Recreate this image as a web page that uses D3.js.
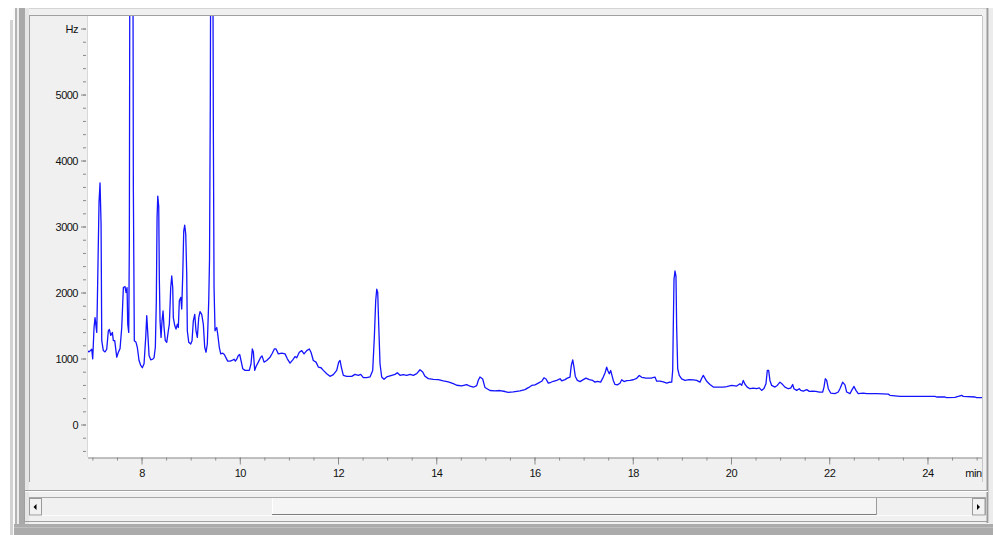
<!DOCTYPE html>
<html><head><meta charset="utf-8">
<script src="https://cdn.jsdelivr.net/npm/d3@7/dist/d3.min.js"></script>
<style>body{margin:0;background:#fff;overflow:hidden}svg{display:block}</style>
</head><body>
<svg id="chart" width="993" height="535"></svg>
<script>
// ---- data (retention time in min, signal in Hz); 9000 = off-scale peaks ----
const chromatogram = [
[6.897,1120],[6.931,1100],[6.986,1140],[7.006,995],[7.033,1470],[7.053,1620],[7.088,1395],[7.100,1850],
[7.135,3380],[7.155,3660],[7.176,3035],[7.190,1270],[7.222,1120],[7.257,1100],[7.291,1140],[7.324,1420],
[7.345,1440],[7.373,1350],[7.406,1395],[7.426,1270],[7.454,1270],[7.495,1020],[7.528,1095],[7.562,1150],
[7.597,1470],[7.630,2075],[7.664,2090],[7.684,2000],[7.705,2075],[7.719,1520],[7.739,1395],[7.752,2790],
[7.766,9000],[7.821,9000],[7.833,3640],[7.853,1270],[7.888,1245],[7.914,1170],[7.949,970],[7.984,895],
[8.016,860],[8.051,920],[8.085,1320],[8.106,1650],[8.132,1320],[8.153,1045],[8.187,980],[8.228,990],
[8.254,1010],[8.281,1170],[8.301,1875],[8.316,3130],[8.330,3460],[8.350,3306],[8.362,2225],[8.377,1570],
[8.397,1320],[8.417,1570],[8.438,1720],[8.458,1470],[8.484,1270],[8.513,1245],[8.545,1420],[8.566,1520],
[8.594,2075],[8.615,2250],[8.635,2075],[8.647,1620],[8.676,1500],[8.702,1445],[8.729,1520],[8.749,1470],
[8.769,1875],[8.798,1925],[8.818,1750],[8.839,2275],[8.859,2930],[8.879,3020],[8.900,2880],[8.920,2275],
[8.932,1420],[8.961,1245],[9.001,1220],[9.028,1270],[9.054,1570],[9.083,1670],[9.109,1420],[9.136,1320],
[9.164,1620],[9.191,1710],[9.225,1670],[9.258,1520],[9.286,1170],[9.313,1095],[9.339,1220],[9.368,1875],
[9.384,2500],[9.400,4900],[9.415,9000],[9.445,9000],[9.462,4460],[9.476,2075],[9.496,1420],[9.531,1470],
[9.551,1370],[9.583,1170],[9.612,1070],[9.653,1080],[9.685,1060],[9.720,1010],[9.754,960],[9.802,960],
[9.842,970],[9.883,990],[9.910,960],[9.938,990],[9.970,1045],[9.999,1060],[10.025,970],[10.060,845],
[10.107,820],[10.194,820],[10.229,920],[10.255,1145],[10.276,1100],[10.304,820],[10.331,880],[10.377,945],
[10.426,1020],[10.453,1040],[10.494,945],[10.548,970],[10.616,1020],[10.662,1080],[10.703,1145],[10.738,1145],
[10.785,1070],[10.854,1080],[10.921,1070],[10.968,995],[11.023,930],[11.078,980],[11.125,1030],[11.159,1010],
[11.212,1095],[11.261,1120],[11.308,1070],[11.363,1120],[11.416,1145],[11.450,1095],[11.497,970],[11.552,945],
[11.599,870],[11.654,860],[11.701,820],[11.770,770],[11.837,730],[11.904,755],[11.973,820],[12.014,945],
[12.041,970],[12.067,870],[12.108,745],[12.177,730],[12.279,730],[12.346,760],[12.413,745],[12.462,760],
[12.515,710],[12.584,710],[12.651,720],[12.706,820],[12.739,1320],[12.767,1875],[12.788,2050],[12.808,2000],
[12.828,1520],[12.855,920],[12.889,720],[12.936,685],[12.991,720],[13.093,745],[13.160,760],[13.207,785],
[13.262,745],[13.329,755],[13.398,745],[13.466,760],[13.533,745],[13.602,770],[13.669,830],[13.724,795],
[13.771,730],[13.838,695],[13.940,685],[14.042,680],[14.143,660],[14.245,645],[14.347,620],[14.416,595],
[14.518,585],[14.620,605],[14.687,580],[14.754,565],[14.823,590],[14.856,670],[14.890,720],[14.945,690],
[14.992,560],[15.094,515],[15.195,510],[15.297,515],[15.399,500],[15.466,487],[15.568,495],[15.705,510],
[15.806,528],[15.874,558],[15.943,592],[16.010,600],[16.077,627],[16.146,655],[16.193,708],[16.234,690],
[16.281,627],[16.336,640],[16.383,655],[16.452,668],[16.520,693],[16.554,660],[16.621,680],[16.668,703],
[16.722,718],[16.749,895],[16.778,980],[16.804,868],[16.831,728],[16.872,668],[16.927,650],[16.993,680],
[17.048,703],[17.116,680],[17.185,668],[17.232,642],[17.278,655],[17.347,642],[17.400,718],[17.441,793],
[17.469,868],[17.496,810],[17.522,768],[17.551,818],[17.578,740],[17.604,668],[17.638,607],[17.685,600],
[17.740,625],[17.775,678],[17.822,650],[17.877,665],[17.944,670],[18.011,678],[18.080,700],[18.133,743],
[18.182,715],[18.249,705],[18.316,703],[18.386,705],[18.453,718],[18.487,657],[18.554,657],[18.622,645],
[18.691,627],[18.738,640],[18.793,642],[18.813,818],[18.825,1470],[18.840,2200],[18.860,2326],[18.880,2250],
[18.894,1470],[18.915,845],[18.947,745],[18.996,690],[19.063,668],[19.151,680],[19.233,675],[19.302,668],
[19.369,642],[19.404,700],[19.436,745],[19.471,700],[19.505,655],[19.572,607],[19.640,567],[19.742,567],
[19.843,567],[19.912,575],[20.014,592],[20.116,583],[20.183,618],[20.218,595],[20.250,668],[20.285,610],
[20.331,567],[20.386,542],[20.453,552],[20.522,542],[20.576,555],[20.624,517],[20.671,545],[20.712,618],
[20.739,818],[20.767,818],[20.793,668],[20.828,592],[20.895,567],[20.942,592],[20.997,642],[21.052,605],
[21.099,567],[21.166,542],[21.215,552],[21.256,607],[21.282,542],[21.337,517],[21.390,542],[21.419,517],
[21.472,505],[21.541,528],[21.594,502],[21.663,505],[21.730,502],[21.797,492],[21.867,492],[21.893,567],
[21.920,693],[21.948,668],[21.981,542],[22.029,477],[22.117,467],[22.184,492],[22.218,542],[22.273,642],
[22.320,600],[22.355,492],[22.422,467],[22.457,517],[22.504,577],[22.544,517],[22.591,467],[22.693,475],
[22.762,467],[22.965,467],[23.202,460],[23.236,442],[23.440,427],[23.711,427],[23.984,427],[24.153,427],
[24.187,417],[24.356,417],[24.390,407],[24.559,412],[24.696,442],[24.729,427],[24.968,417],[25.002,407],
[25.109,407]
];
const xDomain = [6.91, 25.11];
const yDomain = [-500, 6190];
const xMinorTicks = d3.range(7, 25.01, 0.5);
const xMajorTicks = [8, 10, 12, 14, 16, 18, 20, 22, 24];
const xUnitLabel = "min";
const xUnitAt = 25;
const yMinorTicks = d3.range(-400, 6001, 200);
const yMajorTicks = [0, 1000, 2000, 3000, 4000, 5000, 6000];
const yUnitLabel = "Hz";
const yUnitAt = 6000;

// ---- layout ----
const svg = d3.select("#chart");
const P = {l: 88, r: 982, t: 16, b: 457.5};
const x = d3.scaleLinear().domain(xDomain).range([P.l, P.r]);
const y = d3.scaleLinear().domain(yDomain).range([P.b, P.t]);

function rect(xx, yy, w, h, fill) {
  svg.append("rect").attr("x", xx).attr("y", yy).attr("width", w).attr("height", h).attr("fill", fill);
}
function hline(x1, x2, yy, c) {
  svg.append("line").attr("x1", x1).attr("x2", x2).attr("y1", yy).attr("y2", yy).attr("stroke", c).attr("stroke-width", 1);
}
function vline(xx, y1, y2, c, w) {
  svg.append("line").attr("x1", xx).attr("x2", xx).attr("y1", y1).attr("y2", y2).attr("stroke", c).attr("stroke-width", w || 1);
}

// window frame
rect(0, 0, 993, 535, "#ffffff");
rect(10, 20, 3, 515, "#d2d2d2");
rect(13, 8, 2, 527, "#fafafa");
rect(15, 8, 2, 527, "#b4b4b4");
rect(17, 8, 2, 527, "#ececec");
rect(19, 8, 6, 527, "#a9a9a9");
rect(25, 8, 4, 527, "#e6e6e6");
rect(29, 8, 959, 517, "#f0f0f0");
hline(29, 988, 8.5, "#d4d4d4");
hline(29, 982, 15.5, "#a0a0a0");
rect(P.l, P.t, P.r - P.l, P.b - P.t, "#ffffff");
vline(982.5, 16, 482, "#c8c8c8");
vline(987.5, 8, 523, "#9a9a9a", 2);
rect(989, 8, 4, 527, "#ececec");
vline(29.5, 16, 482, "#a0a0a0");
vline(87.5, 16, 457, "#d8d8d8");

// scrollbar area
hline(24, 988, 490.5, "#a0a0a0");
hline(24, 988, 491.5, "#ffffff");
vline(24.5, 490, 522, "#a0a0a0");
hline(29, 986, 497.5, "#a8a8a8");
rect(29.5, 498, 956, 17, "#f0f0f0");
vline(29.5, 497, 516, "#a8a8a8");
vline(985.5, 497, 516, "#a8a8a8");
// thumb
rect(272, 498, 605, 16, "#f5f5f5");
vline(272.5, 498, 514, "#ffffff");
hline(272, 877, 514.5, "#7c7c7c");
vline(876.5, 498, 515, "#9c9c9c");
hline(29, 986, 515.5, "#fcfcfc");
// buttons
rect(30, 498.5, 11, 16, "#f2f2f2");
svg.append("rect").attr("x", 29.5).attr("y", 498.5).attr("width", 12).attr("height", 16.5)
  .attr("fill", "none").attr("stroke", "#9a9a9a");
rect(973, 498.5, 12, 16, "#f2f2f2");
svg.append("rect").attr("x", 972.5).attr("y", 498.5).attr("width", 12.5).attr("height", 16.5)
  .attr("fill", "none").attr("stroke", "#9a9a9a");
svg.append("path").attr("d", "M33.5,507 L36.5,504 L36.5,510 Z").attr("fill", "#000");
svg.append("path").attr("d", "M980,507 L977,504 L977,510 Z").attr("fill", "#000");
hline(24, 988, 521.5, "#a0a0a0");
rect(14, 524, 979, 11, "#ababab");
hline(14, 993, 527.5, "#bdbdbd");

// ---- axes ----
const fontCss = "font-family:'Liberation Sans',Arial,sans-serif;font-size:11px;letter-spacing:-0.5px;fill:#111";

const yMinor = svg.append("g").attr("transform", "translate(86,0)")
  .call(d3.axisLeft(y).tickValues(yMinorTicks).tickSize(3).tickFormat(""));
const yMajor = svg.append("g").attr("transform", "translate(86,0)")
  .call(d3.axisLeft(y).tickValues(yMajorTicks).tickSize(5).tickPadding(3)
    .tickFormat(d => d === yUnitAt ? yUnitLabel : String(d)));
[yMinor, yMajor].forEach(g => {
  g.select(".domain").remove();
  g.selectAll(".tick line").attr("stroke", "#8a8a8a");
});
yMajor.selectAll(".tick text").attr("style", fontCss);

const xMinor = svg.append("g").attr("transform", `translate(0,${P.b})`)
  .call(d3.axisBottom(x).tickValues(xMinorTicks).tickSize(3).tickFormat(""));
const xMajor = svg.append("g").attr("transform", `translate(0,${P.b})`)
  .call(d3.axisBottom(x).tickValues(xMajorTicks).tickSize(7).tickPadding(5).tickFormat(d3.format("d")));
xMinor.select(".domain").attr("stroke", "#8a8a8a").attr("d", `M${P.l},0.5H${P.r}`);
xMajor.select(".domain").remove();
[xMinor, xMajor].forEach(g => g.selectAll(".tick line").attr("stroke", "#8a8a8a"));
xMajor.selectAll(".tick text").attr("style", fontCss);
svg.append("text").attr("x", x(xUnitAt) + 5).attr("y", P.b + 12).attr("dy", "0.71em")
  .attr("text-anchor", "end").attr("style", fontCss).text(xUnitLabel);

// ---- trace ----
svg.append("clipPath").attr("id", "plotclip").append("rect")
  .attr("x", P.l).attr("y", P.t).attr("width", P.r - P.l).attr("height", P.b - P.t);
const line = d3.line().x(d => x(d[0])).y(d => y(d[1]));
svg.append("path").datum(chromatogram)
  .attr("clip-path", "url(#plotclip)")
  .attr("fill", "none").attr("stroke", "#1414ff").attr("stroke-width", 1.3)
  .attr("stroke-linejoin", "round")
  .attr("d", line);
</script>
</body></html>
